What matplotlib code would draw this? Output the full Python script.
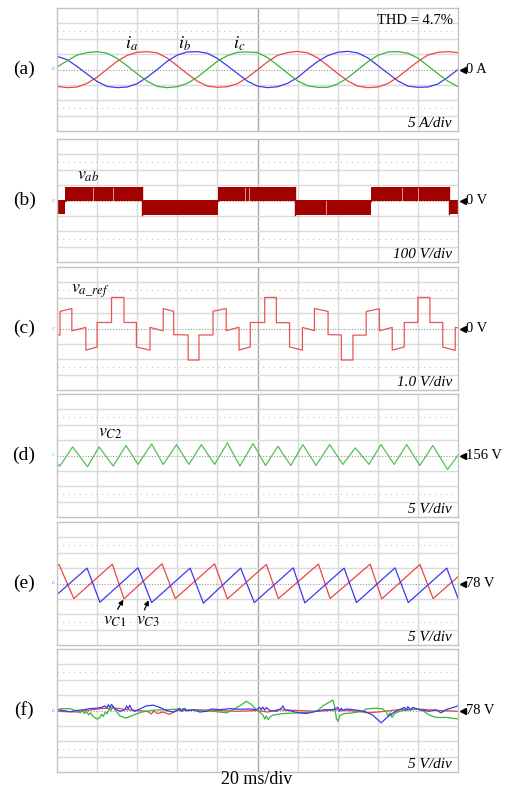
import numpy as np
import matplotlib
matplotlib.use('Agg')
import matplotlib.pyplot as plt

plt.rcParams['font.family'] = ['Liberation Serif', 'DejaVu Serif']
plt.rcParams['mathtext.fontset'] = 'stix'

# ---- data (time in ms, 20 ms/div, 10 div) ----
# (a) phase currents [A], 5 A/div, sampled every 5 ms
t_a = np.arange(0, 201, 5)
i_a = [-5.5, -5.9, -5.7, -4.5, -2.5, 0.1, 2.7, 4.6, 5.6, 5.8, 5.4, 3.7, 1.2, -1.4, -3.8,
       -5.4, -5.8, -5.6, -4.6, -2.6, -0.1, 2.5, 4.6, 5.5, 5.9, 5.4, 3.8, 1.3, -1.3, -3.7,
       -5.4, -5.9, -5.7, -4.6, -2.5, 0.1, 2.6, 4.7, 5.6, 5.8, 5.5]
i_b = [4.3, 3.2, 1.0, -1.5, -3.9, -5.5, -5.9, -5.7, -4.6, -2.5, 0.0, 2.7, 4.7, 5.7, 5.8,
       5.3, 3.6, 1.2, -1.3, -3.8, -5.4, -5.9, -5.6, -4.5, -2.6, 0.1, 2.6, 4.5, 5.6, 5.9,
       5.4, 3.8, 1.3, -1.2, -3.7, -5.4, -5.8, -5.7, -4.7, -2.5, 0.0]
i_c = [0.8, 2.8, 4.7, 5.5, 5.8, 5.3, 3.6, 1.2, -1.4, -3.8, -5.5, -5.9, -5.6, -4.5, -2.5,
       0.1, 2.7, 4.5, 5.6, 5.7, 5.5, 3.9, 1.4, -1.2, -3.7, -5.3, -5.8, -5.8, -4.7, -2.7,
       -0.1, 2.5, 4.6, 5.7, 5.8, 5.3, 3.7, 1.2, -1.4, -3.8, -5.6]

# (b) line voltage PWM band [V], 100 V/div
vab_edges = [0, 4, 42.2, 80.4, 118.6, 156.6, 195.4, 200]
vab_hi = [5, 88, 3, 88, 3, 88, 3]
vab_lo = [-88, -5, -94, -5, -94, -5, -90]
vab_gaps = [18, 28, 94, 96, 134, 172, 180]

# (c) reference voltage [V], 1.0 V/div, piecewise segments
va_t = [0, 1.5, 7.4, 14.4, 20, 27.2, 33.4, 39.6, 46.4, 53, 58.2, 65.4, 70.8, 77.8, 84.4,
        90.8, 96.4, 103.6, 109.4, 116, 122.4, 128.4, 135.2, 141.8, 147.6, 154.2, 160.8,
        167.2, 173.2, 180, 186, 192.4, 198.6, 200]
va_start = [-0.42, 1.11, -0.15, -1.41, 0.39, 2.02, 0.39, -1.20, 0.07, 1.30, -0.40, -2.05, -0.42,
            1.12, -0.14, -1.40, 0.39, 2.02, 0.38, -1.20, 0.07, 1.30, -0.40, -2.05, -0.43,
            1.10, -0.15, -1.41, 0.39, 2.02, 0.39, -1.21, 0.07]
va_end = [-0.42, 1.30, 0.07, -1.20, 0.39, 2.02, 0.39, -1.41, -0.15, 1.11, -0.42, -2.05, -0.42,
          1.30, 0.08, -1.20, 0.39, 2.02, 0.38, -1.41, -0.14, 1.11, -0.42, -2.05, -0.43,
          1.29, 0.07, -1.20, 0.39, 2.02, 0.39, -1.42, 0.05]

# (d) capacitor C2 voltage [V], 5 V/div around 156 V
vc2_t = [0, 1.4, 7.8, 15.2, 21, 28, 34.4, 40.4, 47.2, 53, 59.6, 65.8, 72, 78.6, 85, 91.2,
         97.8, 104, 110.2, 116.6, 122.6, 129.2, 136, 142.6, 148.8, 155.6, 161.6, 168.2,
         174.4, 181, 187.4, 194.8, 200]
vc2 = [153.5, 152.55, 158.8, 152.35, 158.8, 152.55, 159.25, 153.1, 159.75, 153.1, 159.55,
       153.1, 159.55, 153.1, 160.1, 152.55, 159.9, 152.75, 159.0, 152.75, 159.55, 152.75,
       159.55, 153.1, 158.5, 153.1, 159.55, 153.1, 159.55, 152.75, 159.25, 151.45, 156.1]

# (e) capacitor C1 / C3 voltages [V], 5 V/div around 78 V
vc1_t = [0, 1, 8.4, 27.6, 33.4, 52.4, 59, 78.6, 85, 104.4, 110.4, 130.4, 136.2, 156.2, 162,
         181, 187.6, 200]
vc1 = [83.8, 84.2, 73.1, 84.3, 73.0, 84.4, 73.1, 84.4, 73.0, 84.2, 73.1, 84.3, 73.1, 84.3,
       73.0, 84.2, 73.1, 80.2]
vc3_t = [0, 15, 21.4, 40.4, 47.2, 66.4, 73, 91.6, 98.4, 117.8, 123.6, 143.2, 149.4, 168.6,
         175.2, 194.4, 200]
vc3 = [74.4, 83.0, 71.9, 83.1, 71.8, 83.0, 71.6, 83.0, 71.8, 83.1, 71.7, 83.0, 71.8, 83.1,
       71.8, 83.0, 73.2]

# (f) balanced capacitor voltages [V], 5 V/div around 78 V
f_green_t = [0, 2.3, 6.5, 10.1, 11.5, 12.6, 13.6, 14.8, 15.8, 16.8, 18.1, 20.1, 21.4, 22.2,
             23.1, 24.1, 24.9, 25.9, 26.9, 27.7, 28.9, 31.4, 34.4, 38.0, 42.2, 48.0, 54.6,
             61.2, 62.6, 63.7, 64.9, 67.9, 72.9, 77.8, 84.5, 87.8, 91.1, 94.4, 96.9, 99.4,
             101.1, 102.7, 103.6, 104.4, 105.4, 106.4, 107.7, 112.7, 121.0, 127.6, 130.1,
             132.6, 135.9, 137.6, 138.4, 139.3, 140.1, 141.2, 143.4, 147.6, 152.5, 154.2,
             159.2, 162.5, 164.2, 165.0, 166.1, 167.1, 168.3, 170.0, 172.4, 177.4, 179.9,
             182.4, 185.7, 189.0, 194.0, 200.0]
f_green = [78.25, 78.6, 78.6, 77.75, 77.25, 77.9, 77.0, 77.6, 76.6, 77.25, 76.0, 75.2, 75.75,
           76.75, 76.1, 77.5, 76.9, 78.5, 78.0, 79.5, 78.25, 76.25, 75.5, 76.5, 77.5, 78.1,
           78.25, 78.5, 77.75, 78.75, 78.0, 78.25, 77.9, 77.75, 77.25, 78.25, 79.5, 81.0,
           80.0, 78.25, 77.5, 76.5, 75.25, 76.25, 75.0, 76.0, 76.5, 77.0, 77.25, 77.5, 78.0,
           79.5, 80.75, 81.4, 79.5, 75.5, 74.5, 76.5, 77.0, 77.25, 77.75, 78.5, 78.75, 78.5,
           77.5, 76.25, 77.25, 75.75, 77.0, 77.5, 78.0, 78.25, 78.5, 78.0, 76.5, 75.75,
           75.75, 75.25]
f_blue_t = [0, 3.2, 6.5, 9.8, 13.1, 16.4, 19.8, 22.2, 23.9, 24.7, 25.6, 26.4, 27.2, 28.9,
            31.4, 33.9, 34.7, 35.5, 36.3, 37.3, 38.8, 41.3, 44.6, 48.0, 51.3, 54.6, 57.9,
            60.4, 61.2, 62.1, 62.9, 64.6, 67.9, 71.2, 74.5, 77.0, 81.2, 86.1, 91.1, 96.1,
            99.4, 101.1, 101.9, 102.7, 103.6, 104.4, 106.1, 109.4, 111.9, 112.7, 113.5,
            116.0, 119.3, 124.3, 129.3, 133.4, 137.6, 140.1, 141.0, 141.8, 142.6, 144.2,
            147.6, 150.9, 154.2, 157.5, 161.7, 165.0, 168.3, 170.8, 173.3, 174.2, 175.0,
            176.2, 177.4, 180.7, 185.7, 189.0, 191.5, 194.0, 200.0]
f_blue = [78.25, 78.0, 77.6, 78.0, 78.25, 78.6, 78.75, 79.0, 79.5, 78.75, 79.9, 79.0, 80.0,
          78.5, 77.75, 78.25, 79.5, 78.5, 79.75, 78.25, 77.75, 78.5, 79.5, 79.75, 79.0,
          78.0, 77.5, 78.25, 78.75, 77.75, 78.6, 77.9, 78.25, 77.5, 77.75, 78.5, 78.25,
          78.6, 78.4, 78.5, 78.25, 79.0, 78.25, 79.1, 78.1, 79.0, 78.0, 77.75, 78.75, 79.5,
          78.25, 78.0, 77.4, 77.0, 77.75, 78.25, 78.25, 79.0, 77.75, 78.75, 77.9, 78.5,
          78.25, 78.0, 77.5, 76.5, 74.0, 76.0, 77.5, 78.25, 79.0, 78.1, 79.25, 78.25, 79.0,
          78.25, 77.75, 78.25, 77.25, 78.25, 79.5]
f_red_t = [0, 5, 10, 15, 20, 25, 30, 35, 40, 45, 47, 48.5, 50, 53, 56, 60, 70, 80, 90, 100,
           105, 110, 120, 130, 140, 150, 155, 160, 170, 180, 190, 200]
f_red = [77.75, 77.6, 77.5, 78.0, 78.5, 78.75, 78.75, 78.25, 78.0, 77.75, 76.9, 77.8, 77.0,
         77.5, 76.75, 78.0, 78.25, 78.0, 77.75, 78.0, 77.5, 78.25, 78.0, 77.75, 78.25,
         77.75, 77.25, 77.5, 78.25, 78.5, 78.0, 77.75]

panel_tags = ['(a)', '(b)', '(c)', '(d)', '(e)', '(f)']
ref_labels = ['0 A', '0 V', '0 V', '156 V', '78 V', '78 V']
scale_labels = ['5 A/div', '100 V/div', '1.0 V/div', '5 V/div', '5 V/div', '5 V/div']

RED = '#ee4444'
BLUE = '#3a3aee'
GREEN = '#3cb43c'
chan_colors = [BLUE, '#e03030', '#e85555', '#55c055', BLUE, BLUE]


def scope_grid(ax):
    ax.set_xlim(0, 200)
    ax.set_ylim(-4, 4)
    ax.set_xticks([])
    ax.set_yticks([])
    for s in ax.spines.values():
        s.set_color('#c4c4c4')
        s.set_linewidth(1.0)
    for k in range(1, 10):
        ax.axvline(k * 20, color='#a8a8a8' if k == 5 else '#dadada', lw=1.0, zorder=0)
    for k in (-3, -2, -1, 1, 2, 3):
        ax.axhline(k, color='#dadada', lw=1.0, zorder=0)
    for k in (-2.5, 2.5):
        ax.axhline(k, color='#c4c4c4', lw=0.8, ls=(0, (1, 4)), zorder=0)
    ax.axhline(0, color='#9a9a9a', lw=0.8, ls=(0, (1, 1.5)), zorder=0)


fig = plt.figure(figsize=(5.08, 7.91), dpi=100)
tops = [8, 139, 267, 394, 522, 649]
axes = []
for n, top in enumerate(tops):
    ax = fig.add_axes([57 / 508, 1 - (top + 123) / 791, 401 / 508, 123 / 791])
    scope_grid(ax)
    ax.text(-0.082, 0.5, panel_tags[n], transform=ax.transAxes, ha='center', va='center',
            fontsize=14)
    ax.plot([1.012], [0.5], marker='<', color='k', ms=4.5, transform=ax.transAxes,
            clip_on=False)
    ax.text(1.02, 0.5, ref_labels[n], transform=ax.transAxes, ha='left', va='center',
            fontsize=10.5)
    ax.text(0.985, 0.06, scale_labels[n], transform=ax.transAxes, ha='right', va='center',
            fontsize=11, style='italic')
    ax.text(-0.006, 0.5, 'C', transform=ax.transAxes, ha='right', va='center',
            fontsize=3.5, color=chan_colors[n])
    axes.append(ax)

# (a)
ax = axes[0]
ax.plot(t_a, np.array(i_a) / 5, color=RED, lw=0.9)
ax.plot(t_a, np.array(i_b) / 5, color=BLUE, lw=0.9)
ax.plot(t_a, np.array(i_c) / 5, color=GREEN, lw=0.9)
ax.text(0.987, 0.9, 'THD = 4.7%', transform=ax.transAxes, ha='right', va='center', fontsize=10.5)
ax.text(0.187, 0.71, r'$i_a$', transform=ax.transAxes, ha='center', va='center', fontsize=13)
ax.text(0.317, 0.71, r'$i_b$', transform=ax.transAxes, ha='center', va='center', fontsize=13)
ax.text(0.454, 0.71, r'$i_c$', transform=ax.transAxes, ha='center', va='center', fontsize=13)

# (b)
ax = axes[1]
for k in range(len(vab_hi)):
    ax.fill_between([vab_edges[k], vab_edges[k + 1]], [vab_lo[k] / 100] * 2,
                    [vab_hi[k] / 100] * 2, color='#a30000', lw=0)
    ax.plot([vab_edges[k + 1], vab_edges[k + 1]],
            [vab_hi[k] / 100, vab_lo[min(k + 1, len(vab_lo) - 1)] / 100],
            color='#a30000', lw=1.0)
for g in vab_gaps:
    k = np.searchsorted(vab_edges, g) - 1
    ax.plot([g, g], [vab_lo[k] / 100 + 0.05, vab_hi[k] / 100 - 0.05], color='white',
            lw=0.6, alpha=0.7)
ax.text(0.077, 0.7, r'$v_{ab}$', transform=ax.transAxes, ha='center', va='center', fontsize=13)

# (c)
ax = axes[2]
xs, ys = [], []
for k in range(len(va_start)):
    xs += [va_t[k], va_t[k + 1]]
    ys += [va_start[k], va_end[k]]
ax.plot(xs, ys, color='#e85555', lw=0.9)
ax.text(0.082, 0.805, r'$v_{a\_ref}$', transform=ax.transAxes, ha='center', va='center',
        fontsize=13)

# (d)
ax = axes[3]
ax.plot(vc2_t, (np.array(vc2) - 156) / 5, color='#55c055', lw=0.9)
ax.text(0.132, 0.69, r'$v_{C2}$', transform=ax.transAxes, ha='center', va='center', fontsize=13)

# (e)
ax = axes[4]
ax.plot(vc1_t, (np.array(vc1) - 78) / 5, color=RED, lw=0.9)
ax.plot(vc3_t, (np.array(vc3) - 78) / 5, color=BLUE, lw=0.9)
ax.text(0.145, 0.2, r'$v_{C1}$', transform=ax.transAxes, ha='center', va='center', fontsize=13)
ax.text(0.227, 0.2, r'$v_{C3}$', transform=ax.transAxes, ha='center', va='center', fontsize=13)
ax.annotate('', xy=(vc1_t[4] - 0.3, (vc1[4] - 78) / 5 - 0.05), xycoords='data',
            xytext=(0.151, 0.29), textcoords='axes fraction',
            arrowprops=dict(arrowstyle='-|>', color='k', lw=0.9, mutation_scale=7,
                            shrinkA=0, shrinkB=0))
ax.annotate('', xy=(vc3_t[4] - 1.5, (vc3[4] - 78) / 5 + 0.15), xycoords='data',
            xytext=(0.218, 0.285), textcoords='axes fraction',
            arrowprops=dict(arrowstyle='-|>', color='k', lw=0.9, mutation_scale=7,
                            shrinkA=0, shrinkB=0))

# (f)
ax = axes[5]
ax.plot(f_red_t, (np.array(f_red) - 78) / 5, color=RED, lw=0.9)
ax.plot(f_green_t, (np.array(f_green) - 78) / 5, color=GREEN, lw=0.9)
ax.plot(f_blue_t, (np.array(f_blue) - 78) / 5, color=BLUE, lw=0.9)

fig.text(257 / 508, 1 - 780 / 791, '20 ms/div', ha='center', va='center', fontsize=13)

fig.savefig('out.png', dpi=100)
